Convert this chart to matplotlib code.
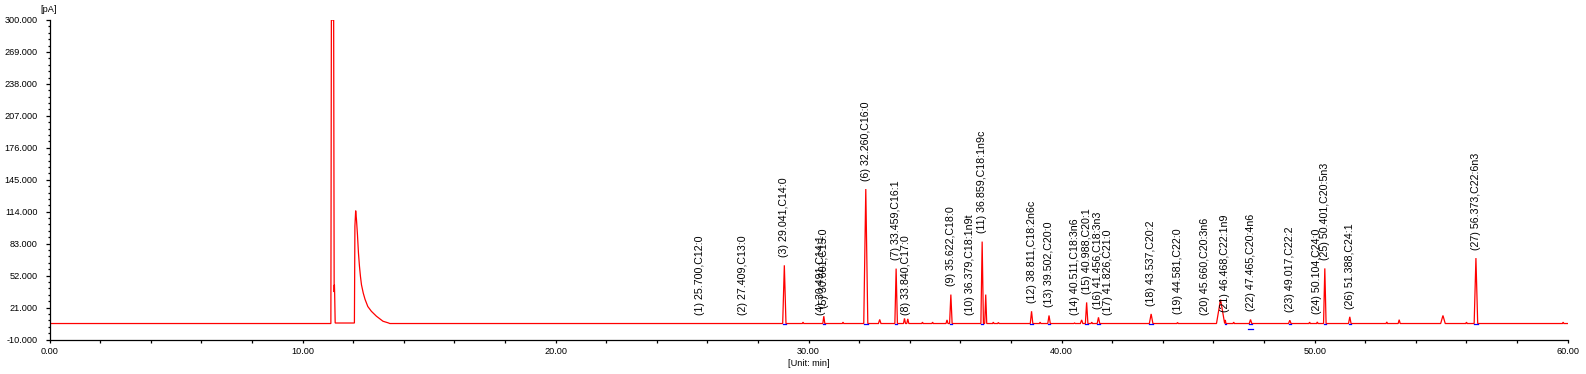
import numpy as np
import matplotlib
matplotlib.use('Agg')
import matplotlib.pyplot as plt
from matplotlib.ticker import MultipleLocator, FormatStrFormatter

# Plot constants
FIG_W, FIG_H, DPI = 1586, 374, 100
TRACE_COLOR = "#ff0000"
MARK_COLOR = "#0000ff"
TICK_SIZE = 6.6
PEAK_LABEL_SIZE = 7.7
LABEL_GAP = 8.0  # pA between peak top and its label
plt.rcParams['font.family'] = ['Liberation Sans', 'DejaVu Sans']

BASELINE = 5.5

# solvent front and the tailing peak after it, read point by point
solvent_t = [11.12, 11.14, 11.23, 11.25, 11.26, 11.27, 11.29,
             12.05, 12.07, 12.10, 12.13, 12.17, 12.21, 12.25, 12.29, 12.33,
             12.40, 12.47, 12.58, 12.72, 12.92, 13.18, 13.38, 13.45]
solvent_y = [5.5, 300.0, 300.0, 36.0, 43.0, 34.0, 6.0,
             6.0, 100.0, 115.0, 107.0, 92.0, 74.0, 61.0, 51.0, 43.0,
             35.0, 29.0, 22.0, 17.4, 12.6, 7.7, 6.2, 5.5]

# identified peaks
peak_no = list(range(1, 28))
peak_rt = [25.700, 27.409, 29.041, 30.491, 30.601, 32.260, 33.459, 33.840, 35.622,
           36.379, 36.859, 38.811, 39.502, 40.511, 40.988, 41.456, 41.826, 43.537,
           44.581, 45.660, 46.468, 47.465, 49.017, 50.104, 50.401, 51.388, 56.373]
peak_name = ["C12:0", "C13:0", "C14:0", "C14:1", "C15:0", "C16:0", "C16:1", "C17:0",
             "C18:0", "C18:1n9t", "C18:1n9c", "C18:2n6c", "C20:0", "C18:3n6", "C20:1",
             "C18:3n3", "C21:0", "C20:2", "C22:0", "C20:3n6", "C22:1n9", "C20:4n6",
             "C22:2", "C24:0", "C20:5n3", "C24:1", "C22:6n3"]
peak_height = [5.5, 5.5, 62.0, 5.5, 12.6, 136.0, 58.8, 5.5, 33.6,
               5.5, 85.0, 17.4, 13.3, 6.0, 26.0, 11.5, 5.5, 14.8,
               6.5, 5.5, 9.0, 9.4, 8.7, 7.0, 59.0, 12.0, 69.0]
peak_hw = [0.03, 0.03, 0.065, 0.03, 0.04, 0.08, 0.05, 0.03, 0.05,
           0.03, 0.05, 0.05, 0.05, 0.03, 0.05, 0.05, 0.03, 0.07,
           0.03, 0.03, 0.025, 0.05, 0.05, 0.03, 0.05, 0.05, 0.07]

# small unlabelled bumps
bump_rt = [29.78, 31.36, 32.81, 33.79, 33.92, 34.50, 34.90, 35.47, 37.00, 37.30,
           37.50, 39.15, 40.79, 41.19, 46.28, 46.80, 49.80, 52.85, 53.34, 55.07,
           56.00, 59.82]
bump_height = [6.8, 6.8, 9.4, 10.5, 10.0, 6.8, 6.8, 9.0, 33.6, 6.8,
               6.5, 6.8, 9.0, 6.8, 28.8, 6.8, 6.8, 7.0, 9.2, 13.3,
               6.8, 6.8]
bump_hw = [0.03, 0.03, 0.05, 0.04, 0.04, 0.03, 0.03, 0.04, 0.04, 0.03,
           0.03, 0.03, 0.05, 0.03, 0.16, 0.03, 0.03, 0.03, 0.04, 0.09,
           0.03, 0.03]

# integration mark drawn below peak 22
mark22_t = [47.36, 47.58]
mark22_y = 0.3


def build_trace():
    pts = list(zip(solvent_t, solvent_y))
    for rt, h, hw in zip(peak_rt + bump_rt, peak_height + bump_height, peak_hw + bump_hw):
        if h <= BASELINE + 0.2:
            continue
        pts += [(rt - hw, BASELINE), (rt, h), (rt + hw, BASELINE)]
    pts.sort(key=lambda p: p[0])
    pts = [(0.0, BASELINE)] + pts + [(60.0, BASELINE)]
    t, y = zip(*pts)
    return np.array(t), np.array(y)


fig = plt.figure(figsize=(FIG_W / DPI, FIG_H / DPI), dpi=DPI)
ax = fig.add_axes([49.5 / FIG_W, (FIG_H - 339.5) / FIG_H,
                   (1567.7 - 49.5) / FIG_W, (339.5 - 20) / FIG_H])

t, y = build_trace()
ax.plot(t, y, color=TRACE_COLOR, lw=0.9, solid_joinstyle='miter')

# integration baselines under the identified peaks
for rt, h, hw in zip(peak_rt, peak_height, peak_hw):
    if h > 8:
        ax.plot([rt - hw, rt + hw], [BASELINE, BASELINE], color=MARK_COLOR, lw=0.9)
ax.plot(mark22_t, [mark22_y, mark22_y], color=MARK_COLOR, lw=0.9)

# peak labels
for n, rt, name, h in zip(peak_no, peak_rt, peak_name, peak_height):
    ax.text(rt, h + LABEL_GAP, f"({n}) {rt:.3f},{name}", rotation=90,
            ha='center', va='bottom', fontsize=PEAK_LABEL_SIZE, color='black')

ax.set_xlim(0, 60)
ax.set_ylim(-10, 300)
ax.xaxis.set_major_locator(MultipleLocator(10))
ax.xaxis.set_minor_locator(MultipleLocator(2))
ax.xaxis.set_major_formatter(FormatStrFormatter('%.2f'))
ax.yaxis.set_major_locator(MultipleLocator(31, offset=-10))
ax.yaxis.set_minor_locator(MultipleLocator(6.2, offset=-10))
ax.yaxis.set_major_formatter(FormatStrFormatter('%.3f'))
ax.tick_params(axis='both', which='both', direction='out', labelsize=TICK_SIZE, width=0.9)
ax.tick_params(axis='y', which='major', length=3, pad=5.5)
ax.tick_params(axis='y', which='minor', length=1.6)
ax.tick_params(axis='x', which='both', length=2.2, pad=3.0)
for side in ['top', 'right']:
    ax.spines[side].set_visible(False)
for side in ['left', 'bottom']:
    ax.spines[side].set_linewidth(0.9)

ax.set_xlabel("[Unit: min]", fontsize=TICK_SIZE, labelpad=2)
fig.text(48.5 / FIG_W, 1 - 9 / FIG_H, "[pA]", ha='center', va='center', fontsize=TICK_SIZE)

fig.savefig("out.png", dpi=DPI)
